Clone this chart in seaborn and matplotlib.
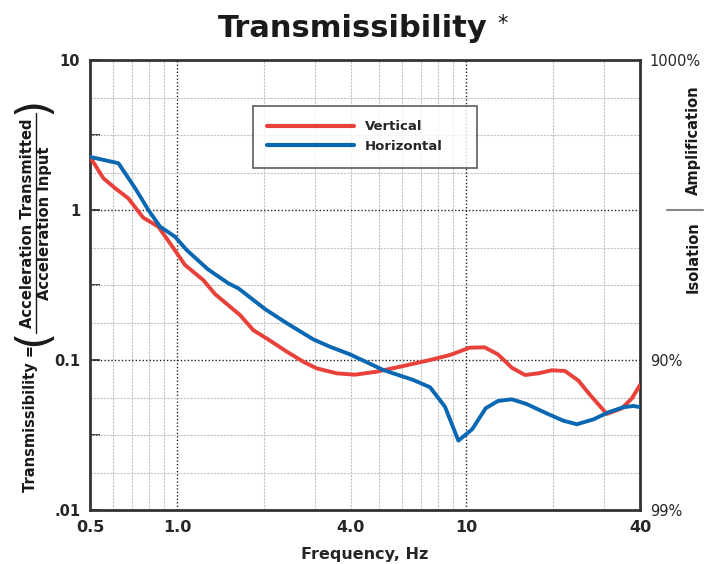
#!/usr/bin/env python
# -*- coding: utf-8 -*-

import numpy as np
import pandas as pd

import matplotlib.pyplot as plt
import matplotlib as mpl
import seaborn as sns

## ============================================================= ##

freq_vertical = [0.5, 0.556, 0.61, 0.678, 0.764, 0.862, 0.946, 1.066, 1.233, 1.354,
                 1.652, 1.837, 2.04, 2.40, 2.735, 3.04, 3.57, 4.13, 4.91, 6.07,
                 7.51, 8.80, 10.3, 11.6, 12.9, 14.4, 16.0, 17.8, 19.8, 22.0,
                 24.5, 26.9, 30.7, 34.6, 37.5, 40.0]
trans_vertical = [2.26, 1.63, 1.40, 1.197, 0.889, 0.774, 0.600, 0.430, 0.341, 0.275,
                  0.1995, 0.158, 0.1395, 0.1136, 0.0974, 0.088, 0.0815, 0.0798, 0.0836, 0.0912,
                  0.100, 0.108, 0.1208, 0.1215, 0.109, 0.0889, 0.0794, 0.0815, 0.0854, 0.0845,
                  0.0728, 0.0584, 0.0437, 0.0476, 0.0555, 0.0681]

freq_horizontal = [0.5, 0.627, 0.716, 0.796, 0.874, 0.984, 1.08, 1.28, 1.505, 1.63,
                   2.02, 2.40, 2.96, 3.38, 3.97, 5.17, 6.57, 7.51, 8.46, 9.41,
                   10.5, 11.7, 12.9, 14.4, 16.2, 19.0, 21.7, 24.2, 27.6, 31.1,
                   35.0, 37.9, 40.0]
trans_horizontal = [2.26, 2.05, 1.40, 1.0, 0.774, 0.664, 0.541, 0.402, 0.3246, 0.3006,
                    0.218, 0.1757, 0.1374, 0.1227, 0.109, 0.0858, 0.0736, 0.0658, 0.0488, 0.029,
                    0.0345, 0.0477, 0.0533, 0.0547, 0.0509, 0.0441, 0.0394, 0.0373, 0.0402, 0.0448,
                    0.0484, 0.0494, 0.0485]

xticks = [0.5, 1.0, 4.0, 10, 40]
xticklabels = ['0.5', '1.0', '4.0', '10', '40']
yticks = [0.01, 0.1, 1, 10]
yticklabels = ['.01', '0.1', '1', '10']
yticks_half = [10**-1.5, 10**-0.5, 10**0.5]
right_ticks = [0.01, 0.1, 10]
right_labels = ['99%', '90%', '1000%']

xgrid_minor = [0.6, 0.7, 0.8, 0.9, 2, 3, 4, 5, 6, 7, 8, 9, 20, 30]
xgrid_major = [1.0, 10]
ygrid_minor = [10**(k / 4.) for k in range(-7, 4) if k % 4 != 0]
ygrid_major = [0.1, 1]

RED = '#e9413a'
BLUE = '#0a67b2'
INK = '#1a1a1a'

## ============================================================= ##

df = pd.concat([
    pd.DataFrame({'freq': freq_vertical, 'trans': trans_vertical, 'direction': 'Vertical'}),
    pd.DataFrame({'freq': freq_horizontal, 'trans': trans_horizontal, 'direction': 'Horizontal'}),
], ignore_index=True)

## ============================================================= ##

sns.set_style('white')
plt.rcParams['font.family'] = ['DejaVu Sans']

fig = plt.figure(figsize=(7.04, 5.64), dpi=100)
ax = fig.add_axes([90/704., 1-510/564., 550/704., 450/564.])

for f in xgrid_minor:
    ax.axvline(f, color='#c2c2c2', lw=0.8, ls=(0, (2, 1)), zorder=1)
for f in xgrid_major:
    ax.axvline(f, color='#222222', lw=1.0, ls=(0, (1, 1.5)), zorder=1)
for v in ygrid_minor:
    ax.axhline(v, color='#c2c2c2', lw=0.8, ls=(0, (2, 1)), zorder=1)
for v in ygrid_major:
    ax.axhline(v, color='#222222', lw=1.0, ls=(0, (1, 1.5)), zorder=1)

sns.lineplot(data=df, x='freq', y='trans', hue='direction',
             palette={'Vertical': RED, 'Horizontal': BLUE},
             hue_order=['Vertical', 'Horizontal'],
             estimator=None, sort=False, linewidth=2.8, ax=ax, zorder=3)

ax.set_xscale('log')
ax.set_yscale('log')
ax.set_xlim(0.5, 40)
ax.set_ylim(0.01, 10)

ax.set_xticks(xticks)
ax.set_xticklabels(xticklabels)
ax.xaxis.set_minor_locator(mpl.ticker.NullLocator())
ax.set_yticks(yticks)
ax.set_yticklabels(yticklabels)
ax.set_yticks(yticks_half, minor=True)
ax.yaxis.set_minor_formatter(mpl.ticker.NullFormatter())
ax.tick_params(axis='both', which='both', direction='in', length=7, width=1.2,
               color='#222222', labelsize=11.5, pad=7)
ax.tick_params(axis='y', labelsize=10.5)
for lab in ax.get_xticklabels() + ax.get_yticklabels():
    lab.set_fontweight('bold')

for sp in ax.spines.values():
    sp.set_linewidth(2.0)
    sp.set_color('#333333')

ax.set_xlabel('Frequency, Hz', fontsize=11.5, fontweight='bold', labelpad=9)
ax.set_ylabel('')

ax2 = ax.twinx()
ax2.set_yscale('log')
ax2.set_ylim(0.01, 10)
ax2.set_yticks(right_ticks)
ax2.set_yticklabels(right_labels)
ax2.yaxis.set_minor_locator(mpl.ticker.NullLocator())
ax2.tick_params(axis='y', length=0, labelsize=10.5, pad=7)
for sp in ax2.spines.values():
    sp.set_visible(False)

handles, labels = ax.get_legend_handles_labels()
leg = ax.legend(handles, labels, loc='upper left', bbox_to_anchor=(0.296, 0.756, 0.407, 0.142),
                mode='expand', frameon=True, fancybox=False,
                prop={'weight': 'bold', 'size': 9.5}, handlelength=6.6, handletextpad=0.8,
                borderpad=1.1, labelspacing=0.5, borderaxespad=0)
leg.get_frame().set_edgecolor('#333333')
leg.get_frame().set_linewidth(1.2)
for line in leg.get_lines():
    line.set_linewidth(3.0)

## ============================================================= ##

fig.text(353/704., 1-37/564., 'Transmissibility', ha='center', va='baseline',
         fontsize=22, fontweight='bold', color=INK)
fig.text(497/704., 1-30/564., '*', ha='left', va='baseline', fontsize=15, color=INK)

# y label: Transmissibility = (Acceleration Transmitted / Acceleration Input)
fig.text(31/704., 1-418/564., 'Transmissibility =', rotation=90, ha='center', va='center',
         fontsize=10.5, fontweight='bold', color=INK)
fig.text(28/704., 1-223/564., 'Acceleration Transmitted', rotation=90, ha='center', va='center',
         fontsize=10.6, fontweight='bold', color=INK)
fig.text(45/704., 1-223/564., 'Acceleration Input', rotation=90, ha='center', va='center',
         fontsize=10.6, fontweight='bold', color=INK)
fig.add_artist(mpl.lines.Line2D([35.5/704., 35.5/704.], [1-113/564., 1-333/564.],
                                color=INK, lw=1.0))
fig.text(33/704., 1-337/564., '(', rotation=90, ha='center', va='center',
         fontsize=32, color=INK)
fig.text(33/704., 1-105/564., ')', rotation=90, ha='center', va='center',
         fontsize=32, color=INK)

fig.text(693/704., 1-140/564., 'Amplification', rotation=90, ha='center', va='center',
         fontsize=10.5, fontweight='bold', color=INK)
fig.text(693/704., 1-257/564., 'Isolation', rotation=90, ha='center', va='center',
         fontsize=10.5, fontweight='bold', color=INK)
fig.add_artist(mpl.lines.Line2D([667/704., 703/704.], [1-210/564., 1-210/564.],
                                color='#888888', lw=1.5))

fig.savefig('out.png', dpi=100)
